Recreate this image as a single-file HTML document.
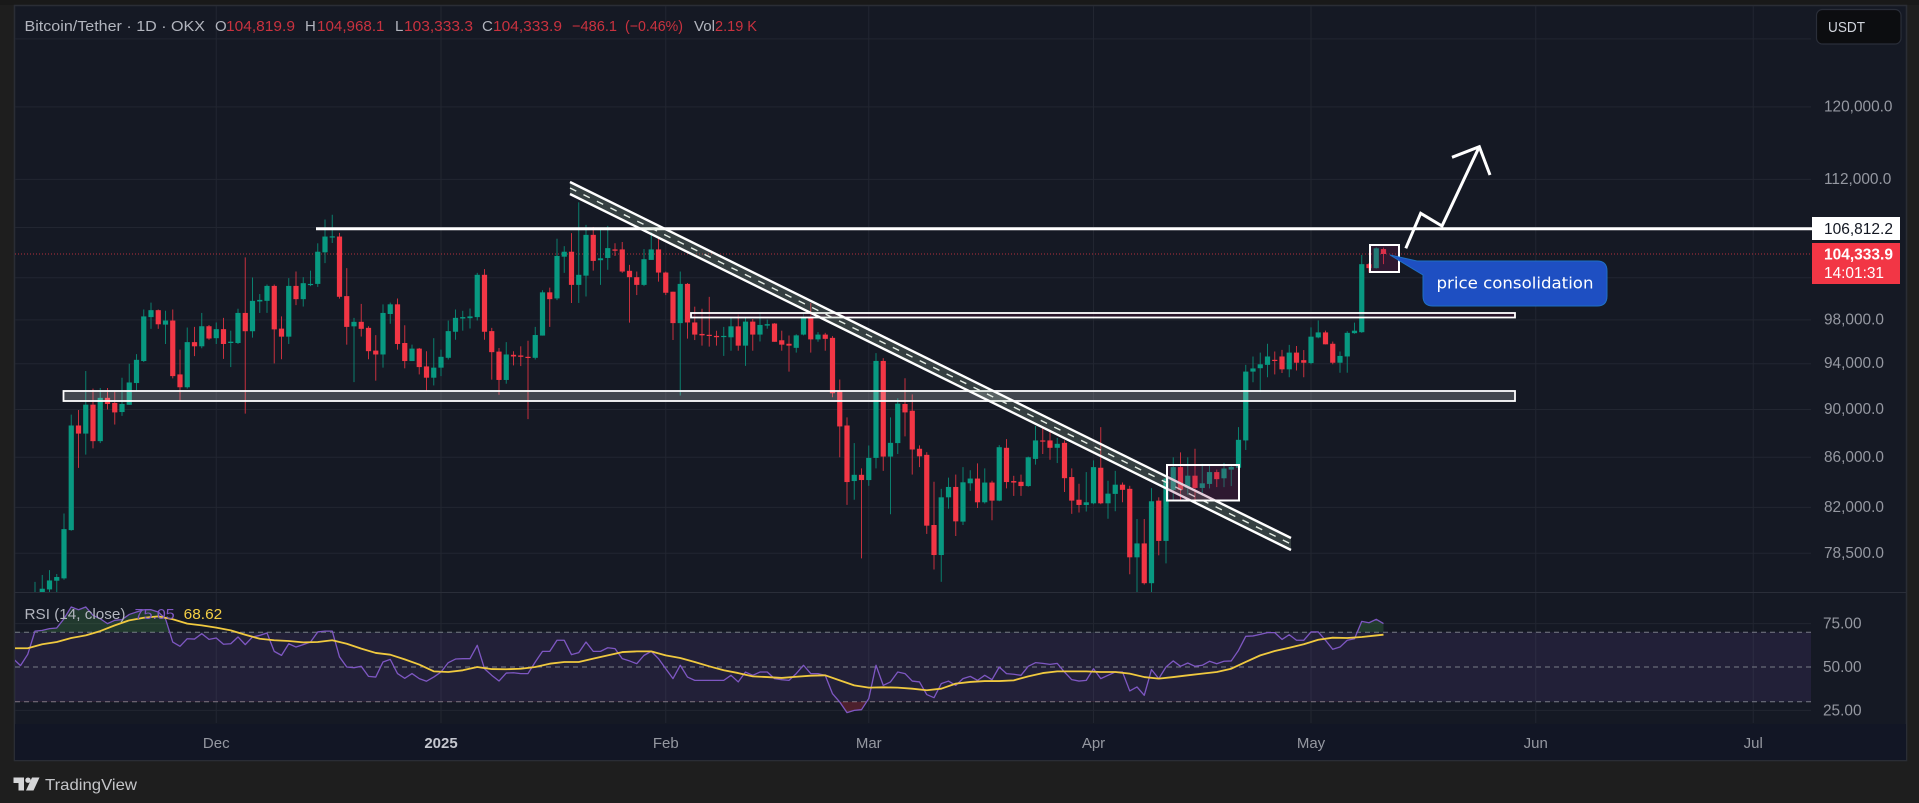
<!DOCTYPE html>
<html lang="en">
<head>
<meta charset="utf-8">
<title>Bitcoin/Tether 1D OKX chart</title>
<style>
html,body{margin:0;padding:0;background:#1e1e1e;width:1919px;height:803px;overflow:hidden}
svg{display:block}
text{font-family:"Liberation Sans",sans-serif}
</style>
</head>
<body>
<svg id="chart" xmlns="http://www.w3.org/2000/svg" width="1919" height="803" viewBox="0 0 1919 803">
  <defs>
    <clipPath id="price-clip"><rect x="15" y="6" width="1796" height="586"/></clipPath>
    <clipPath id="above-70"><rect x="15" y="593" width="1796" height="39.5"/></clipPath>
    <clipPath id="below-30"><rect x="15" y="701.5" width="1796" height="22"/></clipPath>
    <clipPath id="rsi-clip"><rect x="15" y="593" width="1796" height="130"/></clipPath>
  </defs>
  <rect x="0" y="0" width="1919" height="803" fill="#1e1e1e"/>
  <rect x="0" y="0" width="1919" height="5" fill="#191919"/>
  <rect x="14.5" y="5.5" width="1892" height="755" fill="#151924" stroke="#2a2d35" stroke-width="1.5"/>
  <rect x="15" y="724" width="1891" height="36" fill="#121625"/>
  <g id="grid"></g>
  <line x1="15" y1="592.5" x2="1906" y2="592.5" stroke="#2a2e39" stroke-width="1"/>
  <g id="rsi-pane"></g>
  <line id="last-price-line" x1="15" x2="1812" stroke="#b5303c" stroke-width="1" stroke-dasharray="1 2"/>
  <g id="candles" clip-path="url(#price-clip)"></g>

  <g>
    <rect x="691" y="313" width="824" height="4.5" fill="#3a1330" fill-opacity=".55" stroke="#ffffff" stroke-width="1.8"/>
    <rect x="63.5" y="391" width="1451.5" height="10" fill="#ffffff" fill-opacity=".2" stroke="#ffffff" stroke-width="1.8"/>
    <line x1="316" y1="228.7" x2="1812" y2="228.7" stroke="#ffffff" stroke-width="3"/>
    <polygon points="570,182 1291,538 1291,550 570,194" fill="#b9d8bb" fill-opacity=".2"/>
    <line x1="570" y1="182" x2="1291" y2="538" stroke="#ffffff" stroke-width="2.4"/>
    <line x1="570" y1="194" x2="1291" y2="550" stroke="#ffffff" stroke-width="2.4"/>
    <line x1="570" y1="188" x2="1291" y2="544" stroke="#e6eee6" stroke-width="1.4" stroke-dasharray="7 8"/>
    <rect x="1167" y="465" width="72" height="35.5" fill="#8a1a5c" fill-opacity=".22" stroke="#ffffff" stroke-width="2"/>
    <rect x="1370" y="245" width="29" height="27" fill="#8a1a5c" fill-opacity=".22" stroke="#ffffff" stroke-width="2"/>
    <polyline points="1405.8,248.3 1420.7,213.3 1442,226 1479.3,146.7" fill="none" stroke="#ffffff" stroke-width="3"/>
    <polyline points="1452,157.3 1479.3,146.7 1490,175" fill="none" stroke="#ffffff" stroke-width="3"/>
    <path d="M1390,255 L1417,261 L1597,261 Q1607,261 1607,271 L1607,296 Q1607,306 1597,306 L1433,306 Q1423,306 1423,296 L1423,275 Z" fill="#1e4fc2" stroke="#1f6fc4" stroke-width="1"/>
    <text x="1436.5" y="288.5" fill="#ffffff" font-size="16" style="font-family:'DejaVu Sans',sans-serif" textLength="157" lengthAdjust="spacingAndGlyphs">price consolidation</text>
  </g>

  <g id="price-axis"></g>
  <g id="time-axis"></g>

  <g font-size="15">
    <text x="24.5" y="31" fill="#b2b5be" textLength="180.5" lengthAdjust="spacingAndGlyphs">Bitcoin/Tether · 1D · OKX</text>
    <text x="215" y="31" fill="#b2b5be">O</text>
    <text x="226" y="31" fill="#c9323f" textLength="69" lengthAdjust="spacingAndGlyphs">104,819.9</text>
    <text x="305" y="31" fill="#b2b5be">H</text>
    <text x="317" y="31" fill="#c9323f" textLength="67.5" lengthAdjust="spacingAndGlyphs">104,968.1</text>
    <text x="395" y="31" fill="#b2b5be">L</text>
    <text x="404" y="31" fill="#c9323f" textLength="69" lengthAdjust="spacingAndGlyphs">103,333.3</text>
    <text x="482" y="31" fill="#b2b5be">C</text>
    <text x="493" y="31" fill="#c9323f" textLength="69" lengthAdjust="spacingAndGlyphs">104,333.9</text>
    <text x="572" y="31" fill="#c9323f" textLength="45" lengthAdjust="spacingAndGlyphs">−486.1</text>
    <text x="625" y="31" fill="#c9323f" textLength="58" lengthAdjust="spacingAndGlyphs">(−0.46%)</text>
    <text x="694" y="31" fill="#b2b5be" textLength="21" lengthAdjust="spacingAndGlyphs">Vol</text>
    <text x="715" y="31" fill="#c9323f" textLength="42" lengthAdjust="spacingAndGlyphs">2.19 K</text>
  </g>

  <g font-size="15">
    <text x="24.5" y="619" fill="#b2b5be" textLength="101" lengthAdjust="spacingAndGlyphs">RSI (14, close)</text>
    <text x="134.7" y="619" fill="#7e57c2" textLength="40" lengthAdjust="spacingAndGlyphs">75.05</text>
    <text x="183.7" y="619" fill="#f5cf45" textLength="38.5" lengthAdjust="spacingAndGlyphs">68.62</text>
  </g>

  <g>
    <rect x="1816.5" y="9.5" width="84.5" height="34.5" rx="6" fill="#0c0d10" stroke="#2a2e39" stroke-width="1.2"/>
    <text x="1828" y="32" fill="#d1d4dc" font-size="14.5" textLength="37" lengthAdjust="spacingAndGlyphs">USDT</text>
  </g>

  <g>
    <rect x="1812" y="217" width="88" height="23" fill="#ffffff"/>
    <text x="1824" y="234" fill="#131722" font-size="15.4" textLength="69" lengthAdjust="spacingAndGlyphs">106,812.2</text>
    <rect x="1812" y="243" width="88" height="41" fill="#f23645"/>
    <text x="1824" y="259.5" fill="#ffffff" font-size="15.4" font-weight="bold" textLength="69" lengthAdjust="spacingAndGlyphs">104,333.9</text>
    <text x="1824" y="278" fill="#ffffff" font-size="15.4" textLength="60" lengthAdjust="spacingAndGlyphs">14:01:31</text>
  </g>

  <g>
    <path d="M13.5 777.5H24V790.5H18.5V783H13.5Z" fill="#d5d6d8"/>
    <circle cx="28" cy="780.2" r="2.7" fill="#d5d6d8"/>
    <path d="M32 777.5H39.5L33.5 790.5H26Z" fill="#d5d6d8"/>
    <text x="45" y="790" fill="#c4c5c8" font-size="16" textLength="92" lengthAdjust="spacingAndGlyphs">TradingView</text>
  </g>
</svg>
<script>
// Daily candles, first entry is three days before the first visible bar (3 Nov 2024)
const firstDay = -59;
const opens = [68800,68700,67800,69300,75600,75850,76480,76650,80250,88640,87960,90414,87330,91000,90560,89780,90400,92290,94240,98260,98910,97560,97940,93050,91920,95950,95570,97410,96310,97140,95870,95870,98650,96950,99730,99790,101217,97190,96450,101217,99950,101350,101410,104500,106050,106080,100240,97400,97820,97260,95180,94830,98550,99460,95870,94240,95360,93760,92760,93650,94530,96900,98130,98160,98260,102290,96960,95090,92560,94800,94740,94620,94530,96550,100600,100020,104070,104560,101316,102210,106250,103720,103940,104790,104790,102680,102060,101316,103750,104790,102510,100660,97700,101410,97760,96700,96620,96520,96450,96390,97400,95630,97840,96640,97470,97660,96120,95800,95430,96640,98290,96200,96640,96340,91560,88640,84080,84580,84160,85950,94250,86060,87170,90470,89890,86700,86200,80640,78370,82790,83610,80900,83900,84280,82400,83960,82530,86780,84080,84020,83680,85870,87390,87390,86780,87190,84400,82600,82190,82320,85150,82320,83060,83790,83460,78200,79240,76300,82530,79430,83380,85200,83530,84510,83530,83850,84800,84300,85000,85150,87390,93300,93600,93900,94350,94650,93500,95000,94320,94060,96380,96840,95800,94090,94650,96770,96860,103330,102940,104819.9];
const highs = [69500,69400,70500,76400,76900,77250,76970,81525,89560,89950,93350,91800,91860,91860,91540,92760,94000,94860,98975,99620,98975,98850,98975,95270,97290,97350,98650,97530,97760,98190,97000,99040,104000,102030,100440,101350,101350,98325,101970,102610,102060,102700,105400,107810,108300,106450,102940,98190,99500,97410,96590,99460,99620,100010,97500,95720,95420,95120,96310,95270,97940,98975,98850,99070,102480,102840,97260,95420,95950,95120,95570,96070,97350,100800,101050,105860,105115,106430,109590,107260,107050,106870,107160,105400,105530,103260,102610,104820,106510,106020,102600,100660,102610,101500,99240,99040,100170,96990,97350,98290,98490,98230,98080,98700,98030,97700,97000,96560,96670,98690,99590,96870,96800,96500,92600,89330,87170,85100,86970,94950,94500,89330,90960,92710,91300,86980,86420,84020,83460,84350,84600,85200,84950,85500,85100,84100,87000,87500,84500,84600,86060,88600,88540,88200,87600,87390,85100,83860,84800,85750,88500,84100,84900,83960,83700,81100,81100,83520,82790,84500,86000,86400,86000,86700,85470,85370,85000,85550,85400,88500,93900,94650,95000,95800,95100,95250,95700,95600,95230,97300,97950,97000,96000,95100,96950,97750,104240,103450,105000,104968.1];
const lows = [67500,66800,67500,69000,75000,75600,75600,76550,80200,85140,86220,86730,87170,90000,88720,89450,90400,91560,94150,97170,97170,95780,92700,90770,91800,94680,95390,96170,95780,94440,93700,95780,89650,96360,98650,98650,94030,94400,95780,99390,99250,101200,101120,103430,105430,100000,95720,92370,96460,94400,92500,93650,97640,95270,93590,94240,93050,91610,92080,92900,94380,96170,97000,97200,97940,96170,92590,91270,92230,93850,93790,89180,94380,96550,97350,99860,102480,99590,99590,100200,102700,101316,102780,104140,102480,97750,100340,101200,103750,101630,100340,96140,91200,96270,96140,95630,95540,95630,94700,95170,95170,93810,95170,96010,97180,95980,95170,93300,95000,96570,95000,95980,95170,91050,86000,82200,82600,78120,83700,85100,84900,81470,86270,87730,84600,85200,79960,77300,76400,81900,79800,80640,83300,81950,82300,81000,82480,83500,82900,82900,83620,85400,86270,85800,85530,83210,81500,81600,81680,82250,82250,81120,81700,82400,76950,75300,76200,74700,78350,77750,82500,82600,83000,82600,82900,83500,83600,83600,83680,85050,86600,92360,91500,92800,93050,93170,92800,93400,92800,93950,96300,95750,93950,93200,93200,96720,96800,102510,102900,103333.3];
const closes = [68700,67800,69300,75600,75900,76500,76750,80325,88640,87960,90414,87330,91000,90470,89750,90470,92340,94350,98325,98910,97590,97940,92900,91920,95950,95570,97410,96280,97140,95780,95990,98650,96950,99790,99880,101217,97120,96450,101217,99950,101480,101410,104560,106080,106100,100175,97350,97820,97170,95130,94830,98650,99460,95780,94240,95360,93700,92760,93650,94620,96960,98190,98260,98325,102290,96900,95040,92560,94830,94650,94620,94530,96600,100600,99950,104140,104560,101316,102290,106250,103650,103910,104920,104660,102610,102060,101316,103820,104790,102510,100560,97700,101410,97760,96640,96570,96540,96400,96520,97400,95630,97840,96640,97530,97600,95980,95720,95630,96570,98290,96200,96640,96250,91400,88560,84000,84580,84160,85950,94250,86060,87190,90500,89750,86640,86080,80590,78370,82790,83610,80920,83980,84280,82400,83960,82530,86830,84000,83960,83680,86000,87390,87300,86780,87110,84310,82530,82190,82400,85200,82320,83080,83790,83380,78200,79240,76300,82480,79430,84280,85200,83380,84510,83530,83900,84800,84230,85090,85220,87440,93300,93580,93950,94650,94260,93500,95000,94090,94090,96450,96840,95750,94090,94700,96800,97000,103330,102940,104900,104333.9];

// RSI (14, close), one value per candle
const rsi = [54.8,50.8,57.3,70.7,71.1,72.1,72.5,77.8,84.6,83.0,84.6,79.8,77.8,75.0,76.9,77.3,80.3,81.7,83.0,83.0,81.7,77.8,64.4,61.9,66.3,66.1,69.2,65.9,66.7,63.1,63.4,67.3,62.9,67.3,68.2,69.6,59.0,56.7,63.4,61.5,62.9,64.4,70.2,70.7,70.7,55.8,50.0,49.6,50.4,44.6,44.2,52.9,54.4,46.2,43.5,46.2,43.3,41.8,44.2,47.1,52.5,54.6,54.8,54.8,62.5,49.0,45.2,41.9,46.5,46.7,46.2,46.2,52.9,59.0,59.0,65.4,65.4,57.1,58.3,64.4,59.0,59.0,61.1,60.6,54.8,53.5,51.9,56.7,59.0,54.8,49.0,43.3,51.0,44.2,42.3,42.3,42.3,42.3,42.3,45.2,41.4,47.1,45.2,47.1,47.1,43.3,42.7,42.3,46.2,51.0,46.2,46.2,45.2,34.6,29.8,23.7,25.0,25.4,31.8,51.0,39.4,41.4,47.1,46.2,41.9,41.4,34.1,32.3,40.4,41.9,39.4,43.3,44.6,42.3,45.2,42.7,50.0,46.2,45.8,45.2,50.4,52.5,52.1,51.5,52.1,47.1,42.7,41.9,42.3,49.0,43.3,45.2,47.1,47.1,36.2,38.5,33.7,48.5,43.3,50.0,53.5,50.4,52.3,50.4,51.0,53.3,51.9,53.3,53.5,59.6,67.7,67.9,68.8,69.8,69.8,65.9,68.6,65.4,65.4,70.2,70.2,65.4,60.2,61.5,65.4,66.3,76.3,75.5,77.5,75.05];

// RSI moving average, read every second candle; the final value is the last candle
const rsiMa = [60.8,60.8,63.1,64.4,66.7,68.2,70.7,74.0,76.9,78.4,79.2,77.5,75.0,74.0,72.7,71.1,68.6,66.3,65.4,65.0,64.2,64.4,65.4,63.4,60.6,58.1,57.1,54.4,51.4,47.5,47.1,48.1,50.0,48.8,48.7,49.0,50.0,51.9,52.9,52.9,54.8,56.7,58.6,59.0,59.0,56.7,55.2,52.9,50.4,48.1,46.5,44.6,44.2,43.7,44.4,45.0,45.2,42.3,39.4,38.1,38.3,38.1,37.5,36.6,37.5,40.4,41.4,41.9,41.9,42.3,44.6,46.5,47.5,47.5,47.5,47.1,47.1,46.2,44.2,43.3,44.2,45.2,46.2,47.1,49.0,52.9,56.7,59.2,61.1,63.1,65.7,66.9,66.7,67.3,68.2,68.62];
const rsiMaStep = 2;

const lastPrice = 104333.9;
const gridPrices = [128000,120000,112000,107000,102000,98000,94000,90000,86000,82000,78500];
const priceTicks = [120000,112000,98000,94000,90000,86000,82000,78500];
const priceTickLabels = ["120,000.0","112,000.0","98,000.0","94,000.0","90,000.0","86,000.0","82,000.0","78,500.0"];
const rsiLevels = [70,50,30];
const rsiGridTicks = [75,25];
const rsiTicks = [75,50,25];
const rsiTickLabels = ["75.00","50.00","25.00"];
const timeTickDays = [-31,0,31,59,90,120,151,181];
const timeTickLabels = ["Dec","2025","Feb","Mar","Apr","May","Jun","Jul"];

function xOfDay(d){ return 441 + 7.25 * d; }
function yOfPrice(p){ return 254 + 1052 * Math.log(104334 / p); }
function yOfRsi(r){ return 667 - (r - 50) * 1.735; }

const NS = 'http://www.w3.org/2000/svg';
function make(tag, parent, attrs){
  const el = document.createElementNS(NS, tag);
  for (const k in attrs) el.setAttribute(k, attrs[k]);
  parent.appendChild(el);
  return el;
}

const gridG = document.getElementById('grid');
gridPrices.forEach(function(p){
  const el = make('line', gridG, {x1:15, x2:1811, y1:yOfPrice(p), y2:yOfPrice(p), stroke:'#222631', 'stroke-width':1});
  
  
});
timeTickDays.forEach(function(d){
  const el = make('line', gridG, {x1:xOfDay(d), x2:xOfDay(d), y1:6, y2:723, stroke:'#222631', 'stroke-width':1});
  
  
});
rsiGridTicks.forEach(function(r){
  const el = make('line', gridG, {x1:15, x2:1811, y1:yOfRsi(r), y2:yOfRsi(r), stroke:'#222631', 'stroke-width':1});
  
  
});

document.getElementById('last-price-line').setAttribute('y1', yOfPrice(lastPrice));
document.getElementById('last-price-line').setAttribute('y2', yOfPrice(lastPrice));

// RSI pane
const rsiG = document.getElementById('rsi-pane');
const band = make('rect', rsiG, {x:15, width:1796, y:yOfRsi(rsiLevels[0]), height:yOfRsi(rsiLevels[2]) - yOfRsi(rsiLevels[0]), fill:'#7e57c2', 'fill-opacity':0.13});


rsiLevels.forEach(function(l){
  const el = make('line', rsiG, {x1:15, x2:1811, y1:yOfRsi(l), y2:yOfRsi(l), stroke:'#787b86', 'stroke-width':1, 'stroke-dasharray':'5 4'});
  
  
});
const rsiPts = rsi.map(function(r, i){ return xOfDay(firstDay + i).toFixed(2) + ',' + yOfRsi(r).toFixed(2); });
const xStart = xOfDay(firstDay), xEnd = xOfDay(firstDay + rsi.length - 1);
const obFill = make('polygon', rsiG, {points: xStart + ',' + yOfRsi(70) + ' ' + rsiPts.join(' ') + ' ' + xEnd + ',' + yOfRsi(70), fill:'#4caf50', 'fill-opacity':0.22, 'clip-path':'url(#above-70)'});


const osFill = make('polygon', rsiG, {points: xStart + ',' + yOfRsi(30) + ' ' + rsiPts.join(' ') + ' ' + xEnd + ',' + yOfRsi(30), fill:'#f23645', 'fill-opacity':0.25, 'clip-path':'url(#below-30)'});


const rsiLine = make('polyline', rsiG, {points: rsiPts.join(' '), fill:'none', stroke:'#7e57c2', 'stroke-width':1.3, 'stroke-linejoin':'round', 'clip-path':'url(#rsi-clip)'});


const lastIdx = rsi.length - 1;
const maPts = rsiMa.map(function(r, k){
  const i = Math.min(k * rsiMaStep, lastIdx);
  return xOfDay(firstDay + i).toFixed(2) + ',' + yOfRsi(r).toFixed(2);
});
const maLine = make('polyline', rsiG, {points: maPts.join(' '), fill:'none', stroke:'#f0c93f', 'stroke-width':1.8, 'stroke-linejoin':'round', 'clip-path':'url(#rsi-clip)'});



// Candles
const candleG = document.getElementById('candles');
closes.forEach(function(c, i){
  const o = opens[i], h = highs[i], l = lows[i];
  const x = xOfDay(firstDay + i);
  const col = c >= o ? '#089981' : '#f23645';
  const wick = make('line', candleG, {x1:x, x2:x, y1:yOfPrice(h), y2:yOfPrice(l), stroke:col, 'stroke-width':1, 'stroke-opacity':0.8});
  
  
  const top = Math.min(yOfPrice(o), yOfPrice(c));
  const height = Math.max(Math.abs(yOfPrice(o) - yOfPrice(c)), 1.2);
  const body = make('rect', candleG, {x:x - 2.6, y:top, width:5.2, height:height, fill:col});
  
  
});

// Axis labels
const priceAxis = document.getElementById('price-axis');
priceTicks.forEach(function(p, i){
  const t = make('text', priceAxis, {x:1824, y:yOfPrice(p) + 4.5, fill:'#9598a1', 'font-size':15.4});
  
  
  t.textContent = priceTickLabels[i];
});
rsiTicks.forEach(function(r, i){
  const t = make('text', priceAxis, {x:1823, y:yOfRsi(r) + 5, fill:'#9598a1', 'font-size':15.4});
  
  
  t.textContent = rsiTickLabels[i];
});
const timeAxis = document.getElementById('time-axis');
timeTickDays.forEach(function(d, i){
  const bold = timeTickLabels[i] === '2025';
  const t = make('text', timeAxis, {x:xOfDay(d), y:748, fill: bold ? '#c5c7cf' : '#9598a1', 'font-size':15, 'font-weight': bold ? 'bold' : 'normal', 'text-anchor':'middle'});
  
  
  t.textContent = timeTickLabels[i];
});
</script>
</body>
</html>
